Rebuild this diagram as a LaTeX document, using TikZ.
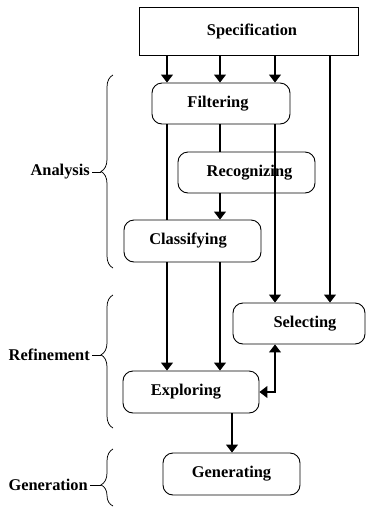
\documentclass[tikz,border=0pt]{standalone}
\usepackage{fontspec}
\setmainfont{Liberation Serif}
\usetikzlibrary{arrows.meta,decorations.pathreplacing}
\begin{document}
\begin{tikzpicture}[x=1pt,y=-1pt,
  txt/.style={font=\bfseries\fontsize{16.4}{18}\selectfont, inner sep=0pt},
  box/.style={txt, draw, line width=0.9pt, rounded corners=10pt},
  plainbox/.style={txt, draw, line width=0.9pt},
  line/.style={line width=1.1pt},
  arr/.style={line, -{Triangle[width=12pt,length=8pt]}},
  dblarr/.style={line, {Triangle[width=12pt,length=8pt]}-{Triangle[width=12pt,length=8pt]}},
  bracedeco/.style={line width=0.75pt, decorate, decoration={brace, amplitude=12pt, aspect=#1}},
  lab/.style={txt, anchor=east}]
\useasboundingbox (0,0) rectangle (366,507);

% process boxes (labels nudged off-centre with \hspace*)
\node[plainbox, minimum width=219pt, minimum height=48pt] (spec)  at (248.5,31)  {\hspace*{7pt}Specification};
\node[box, minimum width=138pt, minimum height=41pt] (filt)  at (221,103.5)  {Filtering\hspace*{6pt}};
\node[box, minimum width=137pt, minimum height=41pt] (recog) at (246.5,172.5) {\hspace*{6pt}Recognizing};
\node[box, minimum width=137pt, minimum height=42pt] (class) at (192.5,241)  {Classifying\hspace*{9pt}};
\node[box, minimum width=132pt, minimum height=41pt] (sel)   at (299,323.5)  {\hspace*{12pt}Selecting};
\node[box, minimum width=136pt, minimum height=42pt] (expl)  at (191,392)    {Exploring\hspace*{10pt}};
\node[box, minimum width=137pt, minimum height=42pt] (gen)   at (231.5,474)  {Generating};

% connector columns
\coordinate (c1) at (167,0);
\coordinate (c2) at (220,0);
\coordinate (c3) at (275,0);
\coordinate (c4) at (330,0);
\coordinate (c5) at (232,0);

% specification feeds
\draw[arr] (spec.south -| c1) -- (filt.north -| c1);
\draw[arr] (spec.south -| c2) -- (filt.north -| c2);
\draw[arr] (spec.south -| c3) -- (filt.north -| c3);
\draw[arr] (spec.south -| c4) -- (sel.north -| c4);

% analysis flow
\draw[line] (filt.south -| c1) -- (class.north -| c1);
\draw[line] (filt.south -| c2) -- (recog.north -| c2);
\draw[arr]  (filt.south -| c3) -- (sel.north -| c3);
\draw[arr]  (recog.south -| c2) -- (class.north -| c2);

% refinement and generation
\draw[arr] (class.south -| c1) -- (expl.north -| c1);
\draw[arr] (class.south -| c2) -- (expl.north -| c2);
\draw[dblarr] (sel.south -| c3) |- (expl.east);
\draw[arr] (expl.south -| c5) -- (gen.north -| c5);

% phase braces
\coordinate (abot) at (113,268);
\coordinate (atop) at (113,75);
\coordinate (atip) at (101,172);
\coordinate (rbot) at (113,428);
\coordinate (rtop) at (113,295);
\coordinate (rtip) at (101,355);
\coordinate (gbot) at (113,506);
\coordinate (gtop) at (113,449);
\coordinate (gtip) at (101,485);

\draw[bracedeco=0.5]  (abot) -- (atop);
\draw[bracedeco=0.55] (rbot) -- (rtop);
\draw[bracedeco=0.37] (gbot) -- (gtop);

\node[lab] (alab) at (90,172) {Analysis};
\node[lab] (rlab) at (90,355) {Refinement};
\node[lab] (glab) at (88,485) {Generation};

\draw[line width=0.75pt] ([xshift=2pt]alab.east) -- (atip);
\draw[line width=0.75pt] ([xshift=2pt]rlab.east) -- (rtip);
\draw[line width=0.75pt] ([xshift=2pt]glab.east) -- (gtip);
\end{tikzpicture}
\end{document}
